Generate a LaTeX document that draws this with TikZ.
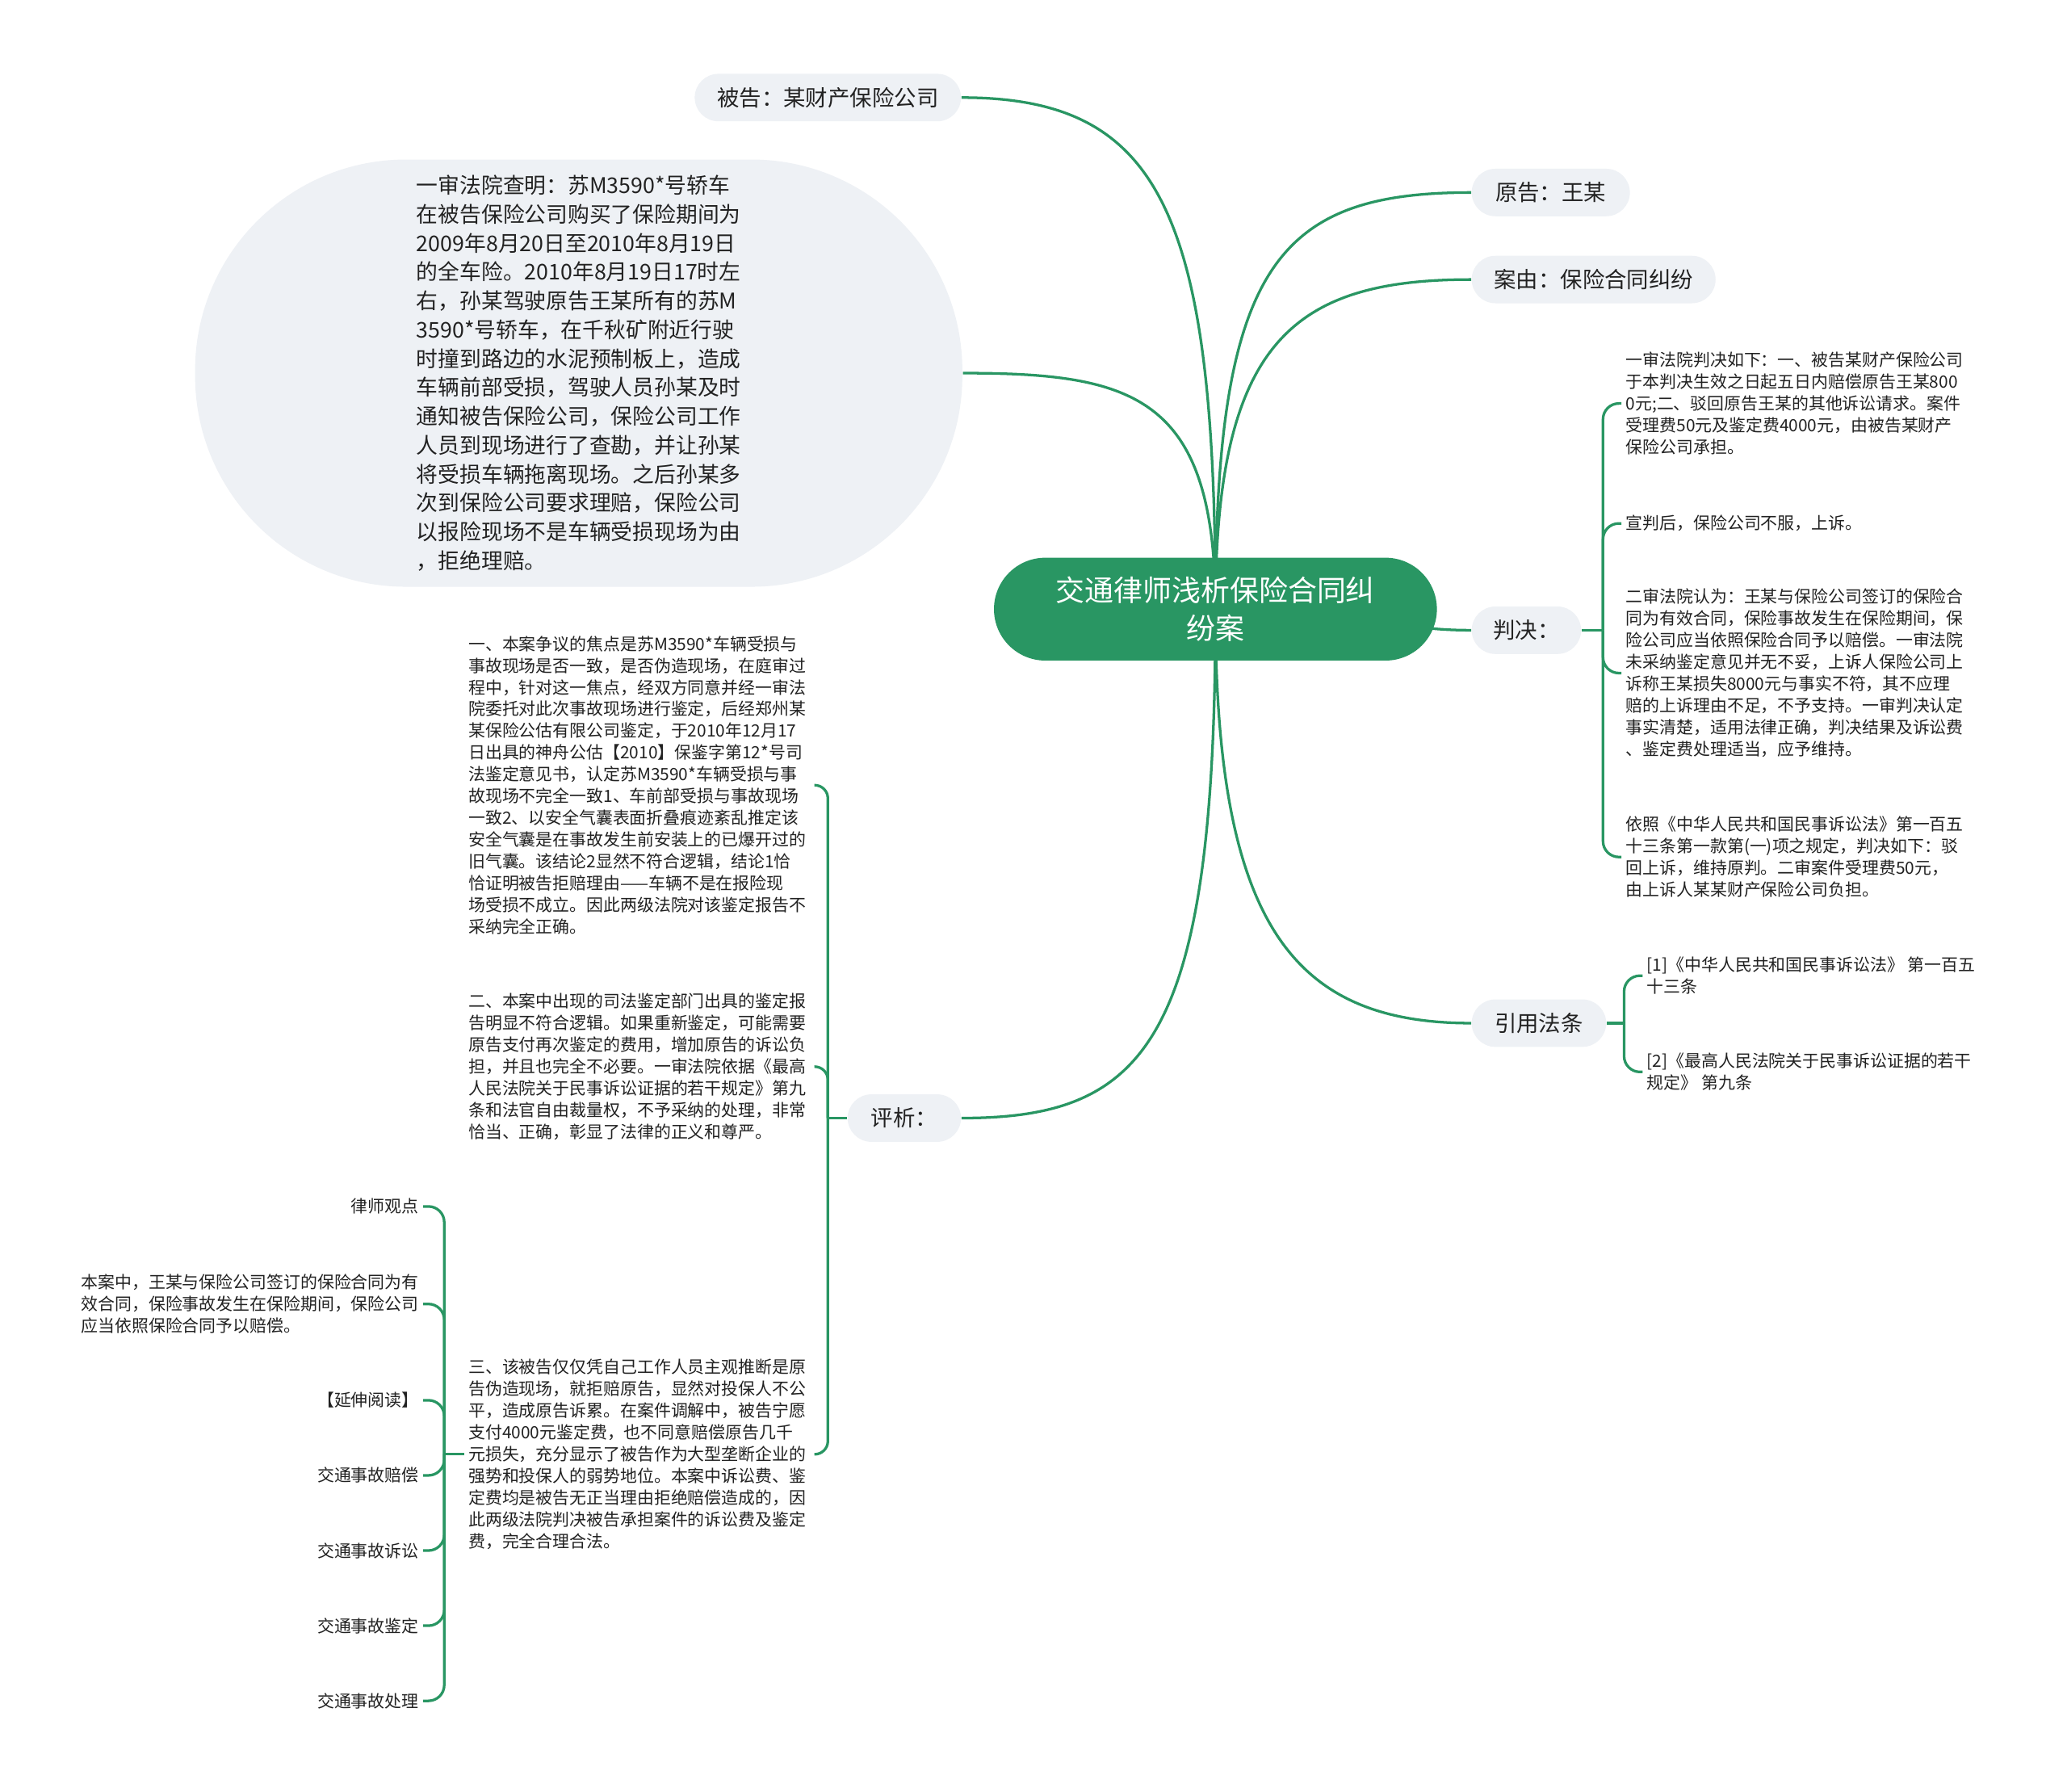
\documentclass[tikz,border=0pt]{standalone}
\usepackage{fontspec}
\setmainfont{Noto Sans CJK SC}
\definecolor{mmgreen}{RGB}{41,150,99}
\definecolor{mmgray}{RGB}{238,241,245}
\definecolor{mmtext}{RGB}{34,34,34}
\pgfdeclarelayer{bg}
\pgfsetlayers{bg,main}
\tikzset{
  topic/.style={fill=mmgray,rounded corners=9pt,minimum height=18pt,inner xsep=0pt,
    text=mmtext,font=\fontsize{8.4pt}{10pt}\selectfont},
  leaf/.style={align=left,inner sep=1.5pt,text=mmtext,
    font=\fontsize{6.4pt}{8.25pt}\selectfont},
  link/.style={draw=mmgreen,line width=1pt},
}
\begin{document}
\begin{tikzpicture}[x=0.5pt,y=-0.5pt]
\useasboundingbox (0,0) rectangle (1568,1359);
% trung tam
\node[fill=mmgreen,text=white,rounded corners=19.5pt,minimum width=168pt,minimum height=39pt,
  align=center,font=\fontsize{11pt}{14.5pt}\selectfont] (root) at (922,462)
  {交通律师浅析保险合同纠\\纷案};
% nhanh chinh
\node[topic,minimum width=101pt] (beigao) at (628,74) {被告：某财产保险公司};
\node[topic,minimum width=60pt,anchor=west] (yuangao) at (1116,146) {原告：王某};
\node[topic,minimum width=92.5pt,anchor=west] (anyou) at (1116,212) {案由：保险合同纠纷};
\node[topic,minimum width=41.5pt,anchor=west] (panjue) at (1116,478) {判决：};
\node[topic,minimum width=51pt,anchor=west] (yinyong) at (1116,776) {引用法条};
\node[topic,minimum width=43pt] (pingxi) at (686,848) {评析：};
\node[fill=mmgray,rounded corners=80pt,minimum width=291pt,minimum height=162pt,align=left,
  text=mmtext,font=\fontsize{8.2pt}{10.95pt}\selectfont] (chaming) at (439,283)
  {一审法院查明：苏M3590*号轿车\\在被告保险公司购买了保险期间为\\2009年8月20日至2010年8月19日\\的全车险。2010年8月19日17时左\\右，孙某驾驶原告王某所有的苏M\\3590*号轿车，在千秋矿附近行驶\\时撞到路边的水泥预制板上，造成\\车辆前部受损，驾驶人员孙某及时\\通知被告保险公司，保险公司工作\\人员到现场进行了查勘，并让孙某\\将受损车辆拖离现场。之后孙某多\\次到保险公司要求理赔，保险公司\\以报险现场不是车辆受损现场为由\\，拒绝理赔。};
% panjue
\node[leaf,anchor=west] (pj1) at (1230,306) {一审法院判决如下：一、被告某财产保险公司\\于本判决生效之日起五日内赔偿原告王某800\\0元;二、驳回原告王某的其他诉讼请求。案件\\受理费50元及鉴定费4000元，由被告某财产\\保险公司承担。};
\node[leaf,anchor=west] (pj2) at (1230,397) {宣判后，保险公司不服，上诉。};
\node[leaf,anchor=west] (pj3) at (1230,510.5) {二审法院认为：王某与保险公司签订的保险合\\同为有效合同，保险事故发生在保险期间，保\\险公司应当依照保险合同予以赔偿。一审法院\\未采纳鉴定意见并无不妥，上诉人保险公司上\\诉称王某损失8000元与事实不符，其不应理\\赔的上诉理由不足，不予支持。一审判决认定\\事实清楚，适用法律正确，判决结果及诉讼费\\、鉴定费处理适当，应予维持。};
\node[leaf,anchor=west] (pj4) at (1230,650) {依照《中华人民共和国民事诉讼法》第一百五\\十三条第一款第(一)项之规定，判决如下：驳\\回上诉，维持原判。二审案件受理费50元，\\由上诉人某某财产保险公司负担。};
% yinyong
\node[leaf,anchor=west] (yy1) at (1246,740) {[1]《中华人民共和国民事诉讼法》 第一百五\\十三条};
\node[leaf,anchor=west] (yy2) at (1246,813) {[2]《最高人民法院关于民事诉讼证据的若干\\规定》 第九条};
% pingxi
\node[leaf,anchor=west,text width=129.5pt] (px1) at (352,595.5) {一、本案争议的焦点是苏M3590*车辆受损与\\事故现场是否一致，是否伪造现场，在庭审过\\程中，针对这一焦点，经双方同意并经一审法\\院委托对此次事故现场进行鉴定，后经郑州某\\某保险公估有限公司鉴定，于2010年12月17\\日出具的神舟公估【2010】保鉴字第12*号司\\法鉴定意见书，认定苏M3590*车辆受损与事\\故现场不完全一致1、车前部受损与事故现场\\一致2、以安全气囊表面折叠痕迹紊乱推定该\\安全气囊是在事故发生前安装上的已爆开过的\\旧气囊。该结论2显然不符合逻辑，结论1恰\\恰证明被告拒赔理由——车辆不是在报险现\\场受损不成立。因此两级法院对该鉴定报告不\\采纳完全正确。};
\node[leaf,anchor=west,text width=129.5pt] (px2) at (352,809) {二、本案中出现的司法鉴定部门出具的鉴定报\\告明显不符合逻辑。如果重新鉴定，可能需要\\原告支付再次鉴定的费用，增加原告的诉讼负\\担，并且也完全不必要。一审法院依据《最高\\人民法院关于民事诉讼证据的若干规定》第九\\条和法官自由裁量权，不予采纳的处理，非常\\恰当、正确，彰显了法律的正义和尊严。};
\node[leaf,anchor=west,text width=129.5pt] (px3) at (352,1103) {三、该被告仅仅凭自己工作人员主观推断是原\\告伪造现场，就拒赔原告，显然对投保人不公\\平，造成原告诉累。在案件调解中，被告宁愿\\支付4000元鉴定费，也不同意赔偿原告几千\\元损失，充分显示了被告作为大型垄断企业的\\强势和投保人的弱势地位。本案中诉讼费、鉴\\定费均是被告无正当理由拒绝赔偿造成的，因\\此两级法院判决被告承担案件的诉讼费及鉴定\\费，完全合理合法。};
% cot trai
\node[leaf,anchor=east] (ls1) at (321,915) {律师观点};
\node[leaf,anchor=east] (ls2) at (321,989) {本案中，王某与保险公司签订的保险合同为有\\效合同，保险事故发生在保险期间，保险公司\\应当依照保险合同予以赔偿。};
\node[leaf,anchor=east] (ls3) at (321,1062) {【延伸阅读】};
\node[leaf,anchor=east] (ls4) at (321,1119) {交通事故赔偿};
\node[leaf,anchor=east] (ls5) at (321,1176) {交通事故诉讼};
\node[leaf,anchor=east] (ls6) at (321,1233) {交通事故鉴定};
\node[leaf,anchor=east] (ls7) at (321,1290) {交通事故处理};
% duong noi
\begin{pgfonlayer}{bg}
\fill[white] (0,0) rectangle (1568,1359);
\draw[link] (root.center) .. controls (922,160) and (880,74) .. (beigao.east);
\draw[link] (root.center) .. controls (922,300) and (860,283) .. (chaming.east);
\draw[link] (root.center) .. controls (922,200) and (970,146) .. (yuangao.west);
\draw[link] (root.center) .. controls (922,260) and (980,212) .. (anyou.west);
\draw[link] (root.center) .. controls (1050,462) and (1050,478) .. (panjue.west);
\draw[link] (root.center) .. controls (922,700) and (980,776) .. (yinyong.west);
\draw[link] (root.center) .. controls (922,790) and (870,848) .. (pingxi.east);
\end{pgfonlayer}
\coordinate (pjhub) at (1216,478);
\coordinate (yyhub) at (1232,776);
\coordinate (pxhub) at (628,848);
\coordinate (lshub) at (337,1103);
\draw[link] (panjue.east) -- (pjhub);
\foreach \n in {pj1,pj2,pj3,pj4} \draw[link,rounded corners=6pt] (pjhub) |- (\n.west);
\draw[link] (yinyong.east) -- (yyhub);
\foreach \n in {yy1,yy2} \draw[link,rounded corners=6pt] (yyhub) |- (\n.west);
\draw[link] (pingxi.west) -- (pxhub);
\foreach \n in {px1,px2,px3} \draw[link,rounded corners=5pt] (pxhub) |- (\n.east);
\draw[link] (px3.west) -- (lshub);
\foreach \n in {ls1,ls2,ls3,ls4,ls5,ls6,ls7} \draw[link,rounded corners=6pt] (lshub) |- (\n.east);
\end{tikzpicture}
\end{document}
